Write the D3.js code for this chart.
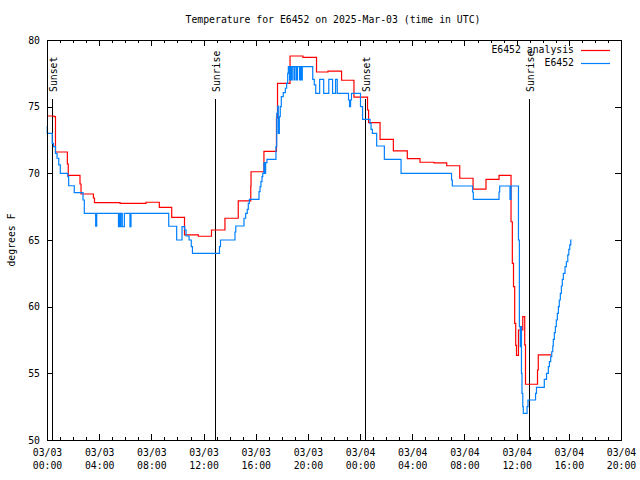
<!DOCTYPE html>
<html>
<head>
<meta charset="utf-8">
<script src="https://cdn.jsdelivr.net/npm/d3@7/dist/d3.min.js"></script>
<style>
  html, body { margin: 0; padding: 0; background: #fff; }
  svg { display: block; }
  text { font-family: "DejaVu Sans Mono", "Liberation Mono", monospace; font-size: 9.8px; fill: #000; }
</style>
</head>
<body>
<svg id="chart" width="640" height="480"></svg>
<script>
// ---------------- DATA ----------------
const titleText = "Temperature for E6452 on 2025-Mar-03 (time in UTC)";
const yLabelText = "degrees F";
const seriesNames = ["E6452 analysis", "E6452"];
const seriesColors = ["#ff0000", "#0080ff"];

// hours after 2025-03-03 00:00 UTC
const analysisHours = [0.00, 0.54, 0.65, 1.56, 1.63, 2.53, 2.61, 3.56, 3.64, 5.60, 7.59, 8.61, 9.56, 10.54, 11.60, 12.61, 13.64, 14.66, 15.62, 15.64, 16.63, 17.59, 17.67, 18.63, 19.62, 20.66, 21.54, 22.58, 23.53, 24.57, 24.65, 25.53, 26.55, 27.62, 28.59, 29.67, 30.64, 31.64, 32.66, 33.65, 34.65, 35.57, 35.67, 35.76, 35.85, 35.93, 35.99, 36.14, 36.47, 36.62, 36.68, 37.60, 37.66, 38.64];
const analysisTemps = [74.3, 74.25, 71.6, 70.7, 69.85, 69.2, 68.45, 68.15, 67.8, 67.75, 67.83, 67.45, 66.7, 65.38, 65.28, 65.75, 66.63, 67.93, 69.05, 70.12, 71.65, 74.13, 76.75, 78.8, 78.69, 77.6, 77.67, 76.98, 75.71, 74.75, 73.8, 72.55, 71.68, 71.11, 70.83, 70.78, 70.57, 69.63, 68.81, 69.54, 69.84, 66.37, 63.25, 61.5, 58.75, 57.09, 56.34, 58.25, 59.26, 57.13, 54.18, 55.25, 56.38, 56.38];

const obsHours = [0.00, 0.02, 0.40, 0.50, 0.65, 0.77, 0.90, 1.02, 1.59, 1.66, 2.09, 2.76, 2.86, 3.73, 3.81, 5.48, 5.56, 5.62, 5.67, 5.77, 5.93, 6.36, 6.44, 9.33, 9.94, 10.35, 10.56, 10.66, 10.89, 11.06, 11.15, 13.22, 13.30, 14.41, 14.47, 15.10, 15.23, 15.35, 15.43, 15.51, 16.25, 16.33, 16.40, 16.48, 16.54, 16.63, 16.71, 16.76, 16.86, 17.55, 17.61, 17.69, 17.73, 17.81, 17.88, 17.96, 18.11, 18.27, 18.37, 18.45, 18.50, 18.59, 18.65, 18.74, 18.80, 18.93, 19.01, 19.13, 19.20, 19.36, 19.43, 19.49, 19.57, 20.37, 20.49, 20.60, 20.90, 21.21, 21.60, 21.89, 22.12, 22.25, 23.11, 23.19, 23.27, 23.34, 24.03, 24.19, 24.76, 24.84, 24.94, 25.27, 25.86, 27.14, 31.01, 31.07, 32.62, 32.68, 34.65, 34.70, 35.49, 35.57, 36.14, 36.21, 36.28, 36.34, 36.37, 36.41, 36.47, 36.51, 36.80, 36.87, 37.45, 37.52, 38.12, 38.29, 38.43, 38.51, 38.61, 38.69, 38.77, 38.81, 38.89, 38.97, 39.04, 39.12, 39.20, 39.27, 39.35, 39.43, 39.50, 39.58, 39.71, 39.81, 39.92, 40.00, 40.07, 40.15, 40.21];
const obsTemps = [73.55, 73.0, 72.25, 72.0, 71.5, 71.13, 70.63, 70.0, 69.75, 69.07, 68.55, 68.0, 67.0, 66.03, 67.0, 66.0, 67.0, 66.0, 67.0, 66.0, 67.0, 66.0, 67.0, 66.03, 65.0, 66.0, 65.75, 65.3, 65.0, 64.5, 64.0, 64.5, 65.0, 65.6, 66.05, 66.63, 67.0, 67.3, 67.75, 68.05, 68.63, 69.0, 69.38, 69.75, 70.0, 70.8, 70.0, 70.8, 71.05, 72.0, 74.5, 75.05, 73.0, 74.25, 75.0, 75.75, 76.05, 76.38, 76.75, 77.5, 78.0, 77.0, 78.0, 77.0, 78.0, 77.0, 78.0, 77.0, 78.0, 77.0, 78.0, 77.0, 78.0, 77.05, 76.63, 76.0, 77.05, 76.0, 77.05, 76.0, 77.05, 76.0, 75.5, 75.0, 75.5, 76.0, 75.0, 74.05, 73.75, 73.3, 73.0, 72.05, 71.05, 70.0, 69.5, 69.05, 68.6, 68.05, 68.6, 69.05, 68.05, 69.05, 65.0, 58.5, 57.0, 58.5, 55.0, 53.5, 52.5, 52.0, 52.5, 53.0, 53.5, 53.95, 54.55, 55.0, 55.5, 55.88, 56.25, 56.62, 57.05, 57.55, 58.05, 58.5, 59.0, 59.5, 60.0, 60.5, 61.0, 61.55, 62.05, 62.5, 63.0, 63.37, 63.88, 64.3, 64.63, 65.0, 65.0];

const sunHours = [0.41, 12.90, 24.40, 36.97];
const sunLabels = ["Sunset", "Sunrise", "Sunset", "Sunrise"];

const yTicks = [50, 55, 60, 65, 70, 75, 80];
const xStartHour = 0, xEndHour = 44, xMajorStep = 4;

// ---------------- CHART ----------------
const t0 = Date.UTC(2025, 2, 3, 0, 0, 0);
const toDate = h => new Date(t0 + h * 3600e3);

const M = { left: 47, right: 621, top: 40, bottom: 440 };
const svg = d3.select("#chart");
svg.append("rect").attr("width", 640).attr("height", 480).attr("fill", "#fff");

const x = d3.scaleUtc().domain([toDate(xStartHour), toDate(xEndHour)]).range([M.left, M.right]);
const y = d3.scaleLinear().domain([50, 80]).range([M.bottom, M.top]);

const majorTicks = d3.range(xStartHour, xEndHour + 0.001, xMajorStep).map(toDate);
const minorTicks = d3.range(xStartHour, xEndHour + 0.001, 1).map(toDate);
const fmtDay = d3.utcFormat("%m/%d"), fmtTime = d3.utcFormat("%H:%M");

// minor x ticks bottom/top
svg.append("g").attr("transform", `translate(0,${M.bottom})`)
  .call(d3.axisBottom(x).tickValues(minorTicks).tickSize(-3).tickFormat(""))
  .call(g => g.select(".domain").remove());
svg.append("g").attr("transform", `translate(0,${M.top})`)
  .call(d3.axisTop(x).tickValues(minorTicks).tickSize(-3).tickFormat(""))
  .call(g => g.select(".domain").remove());
// major x ticks
const xb = svg.append("g").attr("transform", `translate(0,${M.bottom})`)
  .call(d3.axisBottom(x).tickValues(majorTicks).tickSize(-6).tickPadding(9).tickFormat(d => fmtDay(d)))
  .call(g => g.select(".domain").remove());
xb.selectAll(".tick text").each(function(d) {
  const t = d3.select(this);
  t.text(null).attr("y", 9).attr("dy", null);
  t.append("tspan").attr("x", 0).attr("dy", "0.71em").text(fmtDay(d));
  t.append("tspan").attr("x", 0).attr("dy", "1.33em").text(fmtTime(d));
});
svg.append("g").attr("transform", `translate(0,${M.top})`)
  .call(d3.axisTop(x).tickValues(majorTicks).tickSize(-6).tickFormat(""))
  .call(g => g.select(".domain").remove());

// y axes
svg.append("g").attr("transform", `translate(${M.left},0)`)
  .call(d3.axisLeft(y).tickValues(yTicks).tickSize(-6).tickPadding(7).tickFormat(d3.format("d")))
  .call(g => g.select(".domain").remove());
svg.append("g").attr("transform", `translate(${M.right},0)`)
  .call(d3.axisRight(y).tickValues(yTicks).tickSize(-6).tickFormat(""))
  .call(g => g.select(".domain").remove());

svg.selectAll(".tick text").attr("font-family", null).attr("font-size", null).attr("fill", "#000");
svg.selectAll(".tick line").attr("stroke", "#000").attr("shape-rendering", "crispEdges");

// sunrise/sunset lines
const sunG = svg.append("g");
sunHours.forEach((h, i) => {
  const sx = Math.round(x(toDate(h))) + 0.5;
  sunG.append("line").attr("x1", sx).attr("x2", sx).attr("y1", 99).attr("y2", M.bottom)
    .attr("stroke", "#000").attr("stroke-width", 1).attr("shape-rendering", "crispEdges");
  sunG.append("text").attr("transform", `translate(${sx + 4.5},92) rotate(-90)`)
    .attr("text-anchor", "start").text(sunLabels[i]);
});

// series
const line = d3.line().x(d => x(d[0])).y(d => y(d[1])).curve(d3.curveStepAfter);
const analysisData = analysisHours.map((h, i) => [toDate(h), analysisTemps[i]]);
const obsData = obsHours.map((h, i) => [toDate(h), obsTemps[i]]);

svg.append("path").datum(analysisData).attr("d", line)
  .attr("fill", "none").attr("stroke", seriesColors[0]).attr("stroke-width", 1.2);
svg.append("path").datum(obsData).attr("d", line)
  .attr("fill", "none").attr("stroke", seriesColors[1]).attr("stroke-width", 1.2);

// frame
svg.append("rect").attr("x", M.left + 0.5).attr("y", M.top + 0.5)
  .attr("width", M.right - M.left).attr("height", M.bottom - M.top)
  .attr("fill", "none").attr("stroke", "#000").attr("shape-rendering", "crispEdges");

// legend
const legend = svg.append("g");
seriesNames.forEach((name, i) => {
  const ly = 50 + i * 13;
  legend.append("text").attr("x", 574).attr("y", ly).attr("dy", "0.35em")
    .attr("text-anchor", "end").text(name);
  legend.append("line").attr("x1", 581).attr("x2", 610).attr("y1", ly + 0.5).attr("y2", ly + 0.5)
    .attr("stroke", seriesColors[i]).attr("stroke-width", 1.2);
});

// title and axis label
svg.append("text").attr("x", 333).attr("y", 20).attr("dy", "0.35em")
  .attr("text-anchor", "middle").text(titleText);
svg.append("text").attr("transform", "translate(12,240) rotate(-90)")
  .attr("text-anchor", "middle").attr("dy", "0.35em").text(yLabelText);
</script>
</body>
</html>
